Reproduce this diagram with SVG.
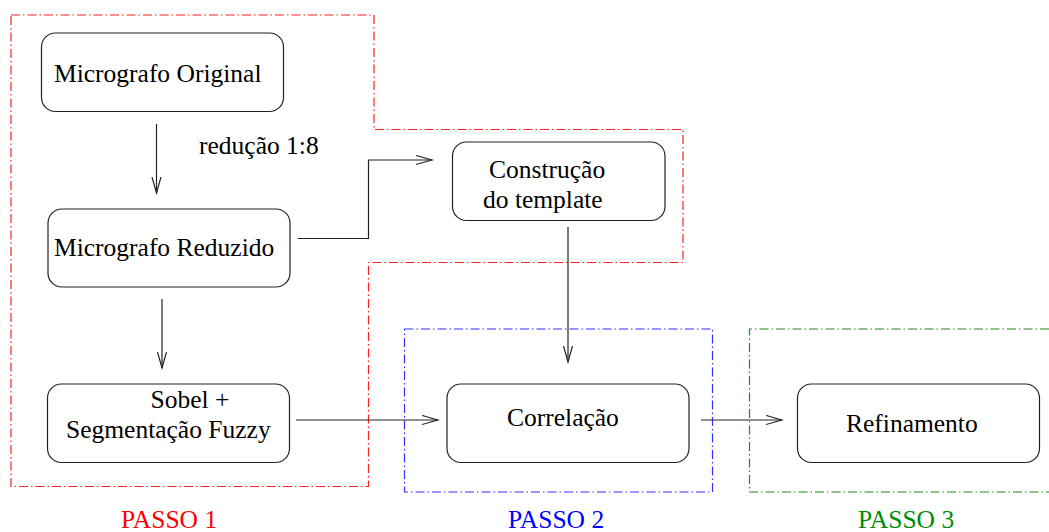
<svg xmlns="http://www.w3.org/2000/svg" width="1049" height="532" viewBox="0 0 1049 532" font-family="'Liberation Serif', serif" font-size="25.5">
<style>
.box{fill:none;stroke:#222;stroke-width:1.2}
.c{fill:none;stroke:#222;stroke-width:1.2}
.frame{fill:none;stroke-width:1.2;stroke-dasharray:9 3 1.5 3}
</style>
<defs>
<marker id="ah" markerUnits="userSpaceOnUse" markerWidth="18" markerHeight="12" refX="16" refY="5" orient="auto">
<path d="M0,0.5 L16,5 L0,9.5" fill="none" stroke="#222" stroke-width="1.2"/>
</marker>
</defs>
<g id="frames">
<path class="frame" stroke="#ff2020" d="M11,15 L374,15 L374,129.5 L683,129.5 L683,262.5 L368.5,262.5 L368.5,486.5 L11,486.5 Z"/>
<rect class="frame" stroke="#3030ff" x="404.5" y="329" width="308" height="163"/>
<path class="frame" stroke="#208a20" d="M1049,329 L749.5,329 L749.5,492 L1049,492"/>
</g>
<g id="connectors">
<line class="c" x1="156.5" y1="124" x2="156.5" y2="193" marker-end="url(#ah)"/>
<line class="c" x1="162" y1="299" x2="162" y2="368" marker-end="url(#ah)"/>
<polyline class="c" points="298,238.5 368.5,238.5 368.5,160 432,160" marker-end="url(#ah)"/>
<line class="c" x1="568" y1="227" x2="568" y2="362" marker-end="url(#ah)"/>
<line class="c" x1="296" y1="420" x2="438" y2="420" marker-end="url(#ah)"/>
<line class="c" x1="701" y1="420" x2="782" y2="420" marker-end="url(#ah)"/>
</g>
<g id="n-original">
<rect class="box" x="41.5" y="33" width="242" height="78.5" rx="14"/>
<text x="54" y="82">Micrografo Original</text>
</g>
<text id="lbl-reducao" x="199" y="154">redução 1:8</text>
<g id="n-reduzido">
<rect class="box" x="48" y="209" width="242" height="78" rx="14"/>
<text x="54" y="256">Micrografo Reduzido</text>
</g>
<g id="n-sobel">
<rect class="box" x="47.5" y="384" width="242" height="78.5" rx="14"/>
<text x="150.5" y="408">Sobel +</text>
<text x="66" y="438">Segmentação Fuzzy</text>
</g>
<g id="n-template">
<rect class="box" x="452.5" y="142" width="212.5" height="78.5" rx="14"/>
<text x="489" y="178">Construção</text>
<text x="483" y="208">do template</text>
</g>
<g id="n-correlacao">
<rect class="box" x="447" y="384" width="242" height="78.5" rx="14"/>
<text x="507" y="425.5">Correlação</text>
</g>
<g id="n-refinamento">
<rect class="box" x="797.5" y="384" width="242" height="78.5" rx="14"/>
<text x="846" y="431.5">Refinamento</text>
</g>
<text x="121" y="528" fill="#ff0000">PASSO 1</text>
<text x="508" y="528" fill="#0000ff">PASSO 2</text>
<text x="858" y="528" fill="#008c00">PASSO 3</text>
</svg>
